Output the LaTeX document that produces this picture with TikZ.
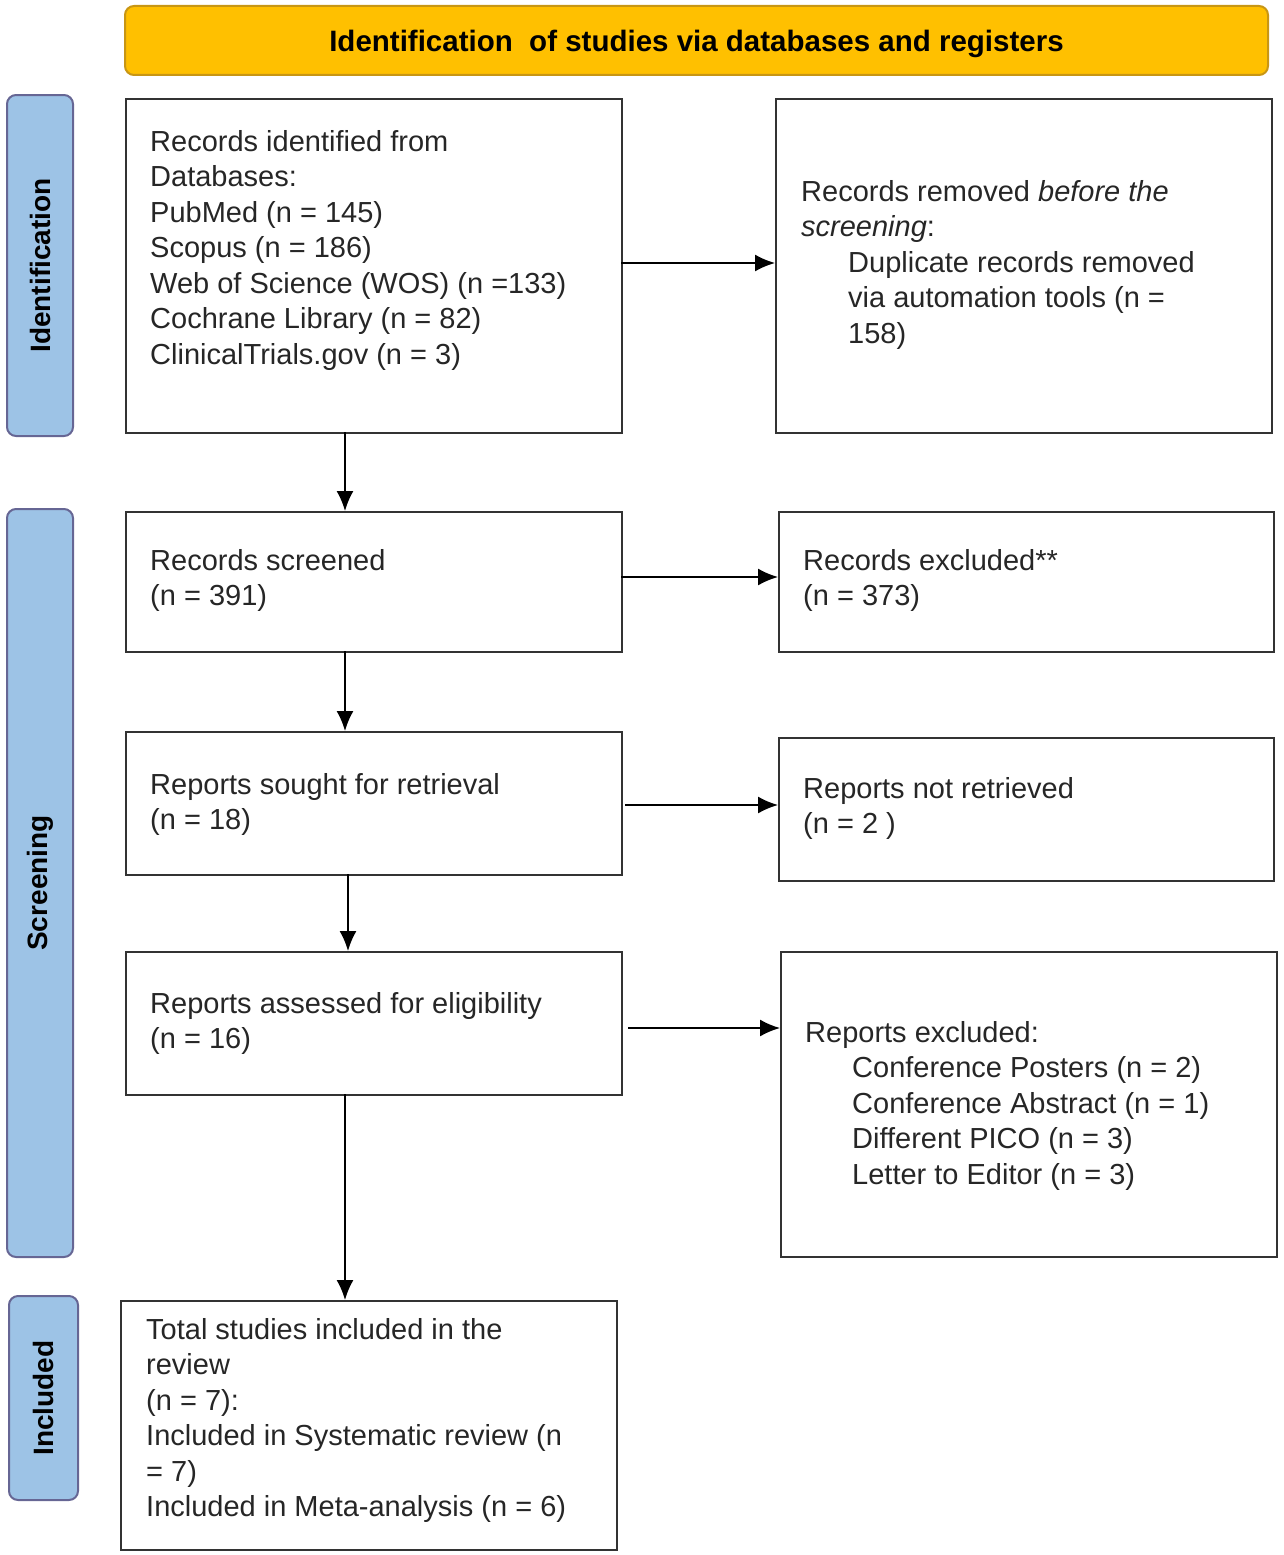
\documentclass[tikz,border=0pt]{standalone}
\usepackage{fontspec}
\setmainfont{Liberation Sans}
\usetikzlibrary{arrows.meta}
\begin{document}
\begin{tikzpicture}[x=1pt,y=-1pt,
 box/.style={draw=black!80,line width=1.8pt},
 side/.style={draw=black!70!blue!60,fill={rgb,255:red,157;green,195;blue,230},line width=2pt,rounded corners=9pt},
 txt/.style={anchor=north west,align=left,inner sep=0pt,font=\fontsize{29}{35.5}\selectfont,text=black!85},
 arr/.style={-{Latex[length=20pt,width=17pt]},line width=1.8pt},
 lab/.style={rotate=90,font=\bfseries\fontsize{28}{30}\selectfont}]
\useasboundingbox (0,0) rectangle (1284,1555);
\draw[draw={rgb,255:red,200;green,150;blue,20},fill={rgb,255:red,255;green,192;blue,0},line width=2pt,rounded corners=9pt] (125,6) rectangle node[font=\bfseries\fontsize{29.5}{30}\selectfont,yshift=-3pt] (ban) {Identification\ \ of studies via databases and registers} (1268,75);
\draw[side] (7,95) rectangle node[lab] (s1) {Identification} (73,436);
\draw[side] (7,509) rectangle node[lab] (s2) {Screening} (73,1257);
\draw[side] (9,1296) rectangle node[lab] (s3) {Included} (78,1500);
\node[box,minimum width=496pt,minimum height=334pt,anchor=north west] (A) at (125,98) {};
\node[box,minimum width=496pt,minimum height=334pt,anchor=north west] (B) at (775,98) {};
\node[box,minimum width=496pt,minimum height=140pt,anchor=north west] (C) at (125,511) {};
\node[box,minimum width=495pt,minimum height=140pt,anchor=north west] (D) at (778,511) {};
\node[box,minimum width=496pt,minimum height=143pt,anchor=north west] (E) at (125,731) {};
\node[box,minimum width=495pt,minimum height=143pt,anchor=north west] (F) at (778,737) {};
\node[box,minimum width=496pt,minimum height=143pt,anchor=north west] (G) at (125,951) {};
\node[box,minimum width=496pt,minimum height=305pt,anchor=north west] (H) at (780,951) {};
\node[box,minimum width=496pt,minimum height=249pt,anchor=north west] (I) at (120,1300) {};
\node[txt] (tA) at (150,130) {Records identified from\\Databases:\\PubMed (n = 145)\\Scopus (n = 186)\\Web of Science (WOS) (n =133)\\Cochrane Library (n = 82)\\ClinicalTrials.gov (n = 3)};
\node[txt] (tB) at (801,180) {Records removed \textit{before the}\\\textit{screening}:\\\hspace*{47pt}Duplicate records removed\\\hspace*{47pt}via automation tools (n =\\\hspace*{47pt}158)};
\node[txt] (tC) at (150,549) {Records screened\\(n = 391)};
\node[txt] (tD) at (803,549) {Records excluded**\\(n = 373)};
\node[txt] (tE) at (150,773) {Reports sought for retrieval\\(n = 18)};
\node[txt] (tF) at (803,777) {Reports not retrieved\\(n = 2 )};
\node[txt] (tG) at (150,992) {Reports assessed for eligibility\\(n = 16)};
\node[txt] (tH) at (805,1021) {Reports excluded:\\\hspace*{47pt}Conference Posters (n = 2)\\\hspace*{47pt}Conference Abstract (n = 1)\\\hspace*{47pt}Different PICO (n = 3)\\\hspace*{47pt}Letter to Editor (n = 3)};
\node[txt] (tI) at (146,1318) {Total studies included in the\\review\\(n = 7):\\Included in Systematic review (n\\= 7)\\Included in Meta-analysis (n = 6)};
\coordinate (a1) at (345,432); \coordinate (c1) at (345,511);
\coordinate (c2) at (345,651); \coordinate (e1) at (345,731);
\coordinate (e2) at (348,874); \coordinate (g1) at (348,951);
\coordinate (g2) at (345,1094); \coordinate (i1) at (345,1300);
\coordinate (ab) at (621,263); \coordinate (bb) at (775,263);
\coordinate (cd) at (621,577); \coordinate (dd) at (778,577);
\coordinate (ef) at (625,805); \coordinate (ff) at (778,805);
\coordinate (gh) at (628,1028); \coordinate (hh) at (780,1028);
\draw[arr] (a1) -- (c1); \draw[arr] (c2) -- (e1); \draw[arr] (e2) -- (g1); \draw[arr] (g2) -- (i1);
\draw[arr] (ab) -- (bb); \draw[arr] (cd) -- (dd); \draw[arr] (ef) -- (ff); \draw[arr] (gh) -- (hh);
\end{tikzpicture}
\end{document}
